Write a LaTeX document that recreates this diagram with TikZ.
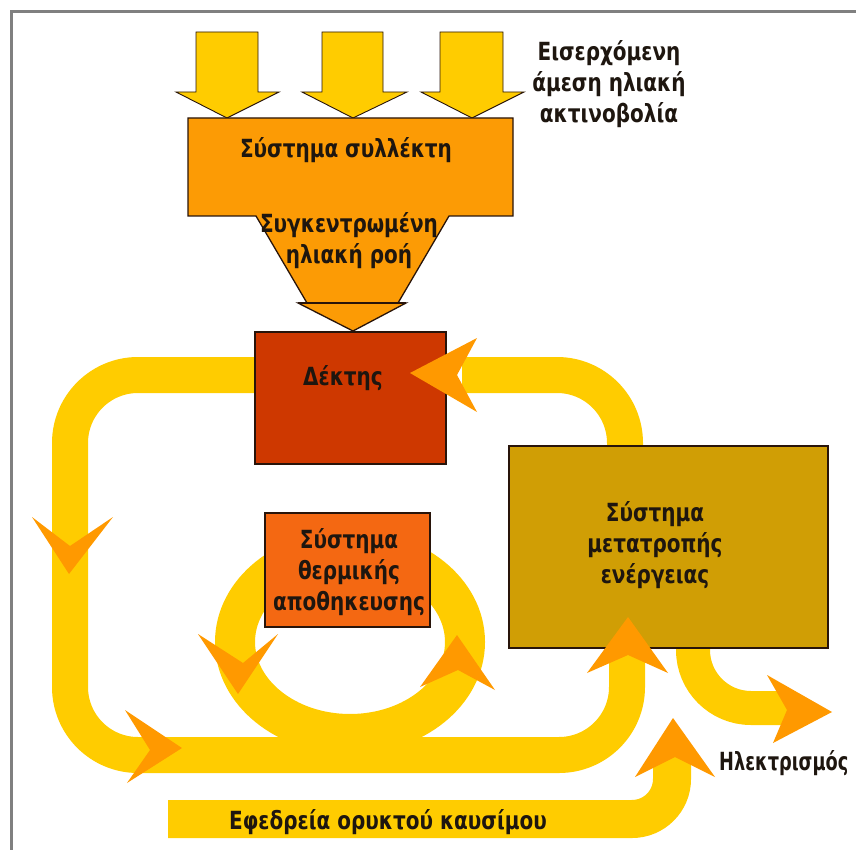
\documentclass[tikz,border=0pt]{standalone}
\usepackage{fontspec}
\setmainfont{DejaVu Sans}[FakeStretch=0.8]
\newfontfamily\narrowfont{DejaVu Sans}[FakeStretch=0.71]
\definecolor{bandyellow}{RGB}{255,204,0}
\definecolor{headorange}{RGB}{255,153,0}
\definecolor{collorange}{RGB}{252,155,5}
\definecolor{recvred}{RGB}{206,56,0}
\definecolor{storeorange}{RGB}{244,104,18}
\definecolor{convgold}{RGB}{208,158,5}
\definecolor{boxline}{RGB}{40,20,10}
\definecolor{txt}{RGB}{30,22,15}
\newcommand\ahd[4]{\fill[headorange] #1 -- #2 -- #3 -- #4 -- cycle;}
\begin{document}
\begin{tikzpicture}[x=1pt,y=-1pt,
  band/.style={line width=36pt, draw=bandyellow},
  boxn/.style={draw=boxline, line width=1.5pt, inner sep=0pt},
  lbl/.style={font=\fontsize{25}{31}\selectfont\bfseries, text=txt, align=center, inner sep=0pt},
  sunarrow/.style={fill=bandyellow, draw=boxline, line width=0.9pt}]
\useasboundingbox (0,0) rectangle (856,850);
% frame
\coordinate (fa) at (11,850);
\coordinate (fb) at (11,12);
\coordinate (fc) at (860,12);
\draw[gray, line width=3pt] (fa) -- (fb) -- (fc);
% yellow bands
\draw[band, rounded corners=68pt] (262,375) -- (70,375) -- (70,755) -- (627,755) -- (627,640);
\draw[band, rounded corners=68pt] (625,452) -- (625,375) -- (462,375);
\draw[band, line width=40pt] (350,642) ellipse [x radius=115, y radius=92];
\draw[band, line width=34pt, rounded corners=58pt] (693,640) -- (693,708) -- (790,708);
\draw[band, line width=38pt, rounded corners=40pt] (168,819) -- (672,819) -- (672,752);
% incoming sun arrows
\draw[sunarrow] (196,32) -- (258,32) -- (258,92) -- (279,92) -- (227,118) -- (176,92) -- (196,92) -- cycle;
\draw[sunarrow] (322,32) -- (383,32) -- (383,92) -- (407,92) -- (353,118) -- (302,92) -- (322,92) -- cycle;
\draw[sunarrow] (440,32) -- (503,32) -- (503,92) -- (524,92) -- (472,118) -- (421,92) -- (440,92) -- cycle;
% collector with funnel
\draw[fill=collorange, draw=boxline, line width=1.3pt]
  (188,118) -- (513,118) -- (513,216) -- (449,216) -- (398,303) -- (406,303) -- (353,331)
  -- (298,303) -- (307,303) -- (256,216) -- (188,216) -- cycle;
\draw[boxline, line width=1.3pt] (298,303) -- (406,303);
% boxes
\node[boxn, fill=recvred, minimum width=191pt, minimum height=132pt] (receiver) at (350.5,398) {};
\node[boxn, fill=storeorange, minimum width=165pt, minimum height=114pt] (storage) at (347.5,570) {};
\node[boxn, fill=convgold, minimum width=319pt, minimum height=202pt] (converter) at (668.5,547) {};
% arrowheads
\ahd{(69,574)}{(32,517)}{(70,546)}{(113,517)}
\ahd{(182,748)}{(125,710)}{(150,750)}{(127,783)}
\ahd{(238,694)}{(198,634)}{(243,663)}{(278,634)}
\ahd{(457,635)}{(420,687)}{(458,670)}{(495,690)}
\ahd{(628,617)}{(587,673)}{(628,655)}{(668,673)}
\ahd{(832,712)}{(767,675)}{(787,710)}{(773,743)}
\ahd{(673,718)}{(635,777)}{(675,757)}{(715,777)}
\ahd{(410,373)}{(477,338)}{(457,375)}{(477,412)}
% labels
\node[lbl] (incoming) at (609,84) {Εισερχόμενη\\άμεση ηλιακή\\ακτινοβολία};
\node[lbl] (colltext) at (346,150) {Σύστημα συλλέκτη};
\node[lbl] (flowtext) at (349,241) {Συγκεντρωμένη\\ηλιακή ροή};
\node[lbl] (recvtext) at (343,378) {Δέκτης};
\node[lbl] (storetext) at (349,572) {Σύστημα\\θερμικής\\αποθηκευσης};
\node[lbl] (convtext) at (655,545) {Σύστημα\\μετατροπής\\ενέργειας};
\node[lbl, anchor=west, font=\fontsize{25}{31}\narrowfont\bfseries] (elec) at (719,763) {Ηλεκτρισμός};
\node[lbl] (fossil) at (388,822) {Εφεδρεία ορυκτού καυσίμου};
\end{tikzpicture}
\end{document}
